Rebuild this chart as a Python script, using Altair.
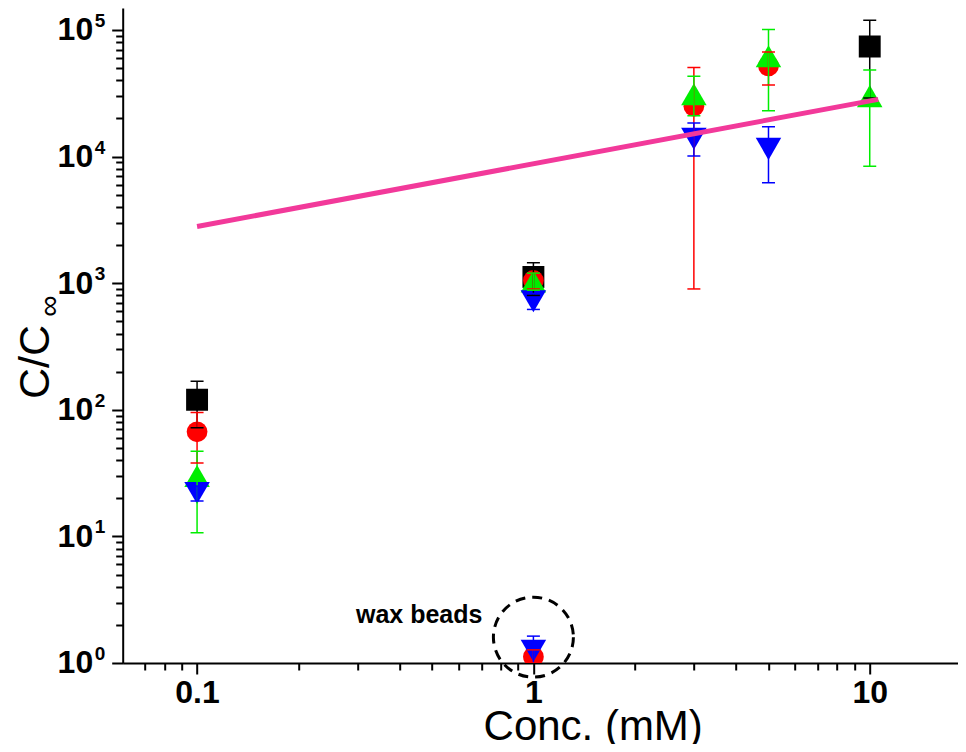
import altair as alt
import pandas as pd

# ---------------- data ----------------
series_names = ["black", "red", "green", "blue"]
series_colors = ["#000000", "#ff0000", "#00ee00", "#0000ff"]
series_shapes = ["square", "circle", "triangle-up", "triangle-down"]
series_sizes = [480, 430, 650, 650]

conc_black = [0.1, 1, 10]
ratio_black = [120, 1120, 74000]
low_black = [72, 800, 29000]
high_black = [168, 1450, 119000]

conc_red = [0.1, 1, 3, 5]
ratio_red = [67, 1050, 25000, 52000]
low_red = [38, 900, 900, 36800]
high_red = [95, 1200, 50500, 67000]

conc_green = [0.1, 1, 3, 5, 10]
ratio_green = [30, 1030, 31000, 62000, 30000]
low_green = [10.7, 880, 21000, 23000, 8400]
high_green = [47, 1200, 43000, 101000, 48300]

conc_blue = [0.1, 1, 3, 5]
ratio_blue = [22, 720, 13800, 11500]
low_blue = [19, 620, 10100, 6200]
high_blue = [25, 830, 18400, 17200]

# wax beads points (red circle, blue triangle) at 1 mM
conc_wax = [1, 1]
ratio_wax = [1.12, 1.25]
low_wax = [1.0, 0.9]
high_wax = [1.27, 1.63]
series_wax = ["red", "blue"]

# pink fit line
fit_conc = [0.1, 10.6]
fit_ratio = [2800, 28300]

# annotation
wax_circle_conc = [1]
wax_circle_ratio = [1.6]
wax_label_conc = [0.705]
wax_label_ratio = [2.07]

# axis ticks
x_major = [0.1, 1, 10]
x_minor = [0.07, 0.08, 0.09, 0.2, 0.3, 0.4, 0.5, 0.6, 0.7, 0.8, 0.9,
           2, 3, 4, 5, 6, 7, 8, 9]
y_major = [1, 10, 100, 1000, 10000, 100000]
y_exponents = ["0", "1", "2", "3", "4", "5"]
y_minor = [2, 3, 4, 5, 6, 7, 8, 9,
           20, 30, 40, 50, 60, 70, 80, 90,
           200, 300, 400, 500, 600, 700, 800, 900,
           2000, 3000, 4000, 5000, 6000, 7000, 8000, 9000,
           20000, 30000, 40000, 50000, 60000, 70000, 80000, 90000]

# ---------------- tables ----------------
rows = []
for name, xs, ys, lo, hi in [
    ("black", conc_black, ratio_black, low_black, high_black),
    ("red", conc_red, ratio_red, low_red, high_red),
    ("green", conc_green, ratio_green, low_green, high_green),
    ("blue", conc_blue, ratio_blue, low_blue, high_blue),
]:
    for a, b, c, d in zip(xs, ys, lo, hi):
        rows.append({"series": name, "x": a, "y": b, "lo": c, "hi": d})
for a, b, c, d, s in zip(conc_wax, ratio_wax, low_wax, high_wax, series_wax):
    rows.append({"series": s, "x": a, "y": b, "lo": c, "hi": d})
df = pd.DataFrame(rows)

fit_df = pd.DataFrame({"x": fit_conc, "y": fit_ratio})
circ_df = pd.DataFrame({"x": wax_circle_conc, "y": wax_circle_ratio})
lab_df = pd.DataFrame({"x": wax_label_conc, "y": wax_label_ratio, "t": ["wax beads"]})
exp_df = pd.DataFrame({"y": y_major, "e": y_exponents})

# ---------------- scales / axes ----------------
PLOT_W = 835
PLOT_H = 655
FONT = "Liberation Sans"
major_test = "abs(log(datum.value)/LN10 - round(log(datum.value)/LN10)) < 0.01"

xscale = alt.Scale(type="log", domain=[0.0601, 18.26], nice=False)
yscale = alt.Scale(type="log", domain=[1, 149000], nice=False)

xaxis = alt.Axis(
    values=sorted(x_major + x_minor),
    labelExpr=f"({major_test}) ? format(datum.value, '~g') : ''",
    tickSize={"condition": {"test": major_test, "value": 11}, "value": 7},
    labelOverlap=False, labelFlush=False, labelBound=False,
    labelFont=FONT, labelFontSize=32, labelFontWeight="bold", labelColor="black",
    labelPadding=4, labelBaseline="top",
    domainColor="black", domainWidth=2, tickColor="black", tickWidth=2,
    grid=False,
    title="Conc. (mM)", titleFont=FONT, titleFontSize=42, titleFontWeight="normal",
    titleColor="black", titleX=470, titleY=77, titleAlign="center",
    titleBaseline="alphabetic", titleAnchor="start",
)
yaxis = alt.Axis(
    values=sorted(y_major + y_minor),
    labelExpr=f"({major_test}) ? '10' : ''",
    tickSize={"condition": {"test": major_test, "value": 11}, "value": 7},
    labelOverlap=False, labelFlush=False, labelBound=False,
    labelFont=FONT, labelFontSize=32, labelFontWeight="bold", labelColor="black",
    labelPadding=19, labelBaseline="middle",
    domainColor="black", domainWidth=2, tickColor="black", tickWidth=2,
    grid=False, title=None,
)


def X(field):
    return alt.X(field, type="quantitative", scale=xscale, axis=xaxis)


def Y(field):
    return alt.Y(field, type="quantitative", scale=yscale, axis=yaxis)


color_enc = alt.Color("series:N",
                      scale=alt.Scale(domain=series_names, range=series_colors),
                      legend=None)

layers = []

# markers, drawn series by series
for name, col, shp, sz in zip(series_names, series_colors, series_shapes, series_sizes):
    layers.append(
        alt.Chart(df[df["series"] == name])
        .mark_point(shape=shp, filled=True, color=col, size=sz, opacity=1,
                    strokeWidth=0, clip=True)
        .encode(x=X("x"), y=Y("y"))
    )

# error bars
base = alt.Chart(df)
layers.append(
    base.mark_rule(strokeWidth=1.5, clip=True).encode(x=X("x"), y=Y("lo"), y2="hi", color=color_enc)
)
layers.append(
    base.mark_tick(orient="horizontal", size=13, thickness=1.5, opacity=1, clip=True)
    .encode(x=X("x"), y=Y("lo"), color=color_enc)
)
layers.append(
    base.mark_tick(orient="horizontal", size=13, thickness=1.5, opacity=1, clip=True)
    .encode(x=X("x"), y=Y("hi"), color=color_enc)
)

# fit line
layers.append(
    alt.Chart(fit_df).mark_line(color="#f2399a", strokeWidth=5)
    .encode(x=X("x"), y=Y("y"))
)

# dashed circle + label
layers.append(
    alt.Chart(circ_df).mark_point(shape="circle", size=6400, filled=False,
                                  stroke="black", strokeWidth=3,
                                  strokeDash=[10, 7], opacity=1)
    .encode(x=X("x"), y=Y("y"))
)
layers.append(
    alt.Chart(lab_df).mark_text(font=FONT, fontSize=25, fontWeight="bold",
                                align="right", baseline="alphabetic", color="black")
    .encode(x=X("x"), y=Y("y"), text="t:N")
)

# exponents of the y tick labels
layers.append(
    alt.Chart(exp_df).mark_text(font=FONT, fontSize=19, fontWeight="bold",
                                align="left", baseline="alphabetic", color="black",
                                dy=-3)
    .encode(x=alt.value(-28), y=Y("y"), text="e:N")
)

# y title: C/C with subscript infinity
ytitle_df = pd.DataFrame({"t": ["C/C"]})
inf_df = pd.DataFrame({"t": ["∞"]})
layers.append(
    alt.Chart(ytitle_df).mark_text(font=FONT, fontSize=43, angle=270,
                                   align="center", baseline="alphabetic", color="black")
    .encode(x=alt.value(-74), y=alt.value(354), text="t:N")
)
layers.append(
    alt.Chart(inf_df).mark_text(font=FONT, fontSize=30, angle=270,
                                align="center", baseline="alphabetic", color="black")
    .encode(x=alt.value(-64), y=alt.value(298), text="t:N")
)

chart = (
    alt.layer(*layers)
    .properties(
        width=PLOT_W, height=PLOT_H,
        autosize=alt.AutoSizeParams(type="none"),
        padding={"left": 114.7, "top": 0, "right": 0, "bottom": 81},
        background="white",
    )
    .configure_view(stroke=None)
)

chart.save("out.html", embed_options={"renderer": "svg", "actions": False})
